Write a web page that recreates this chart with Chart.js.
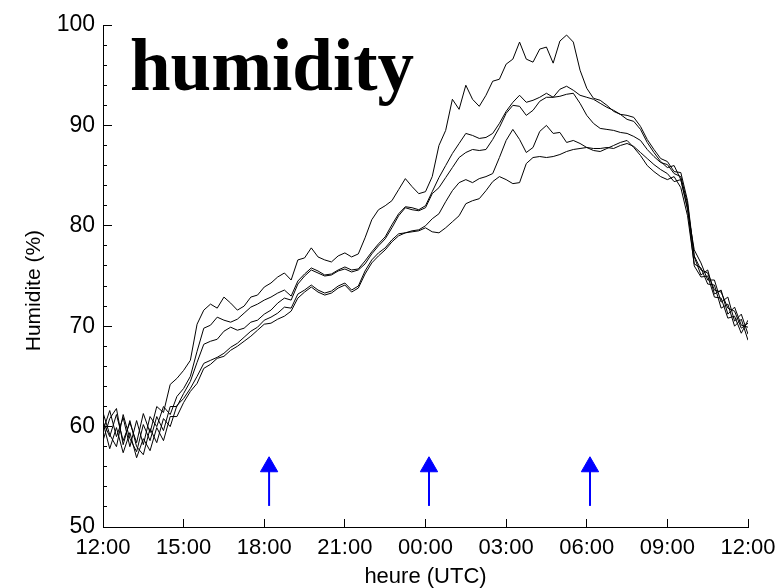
<!DOCTYPE html>
<html lang="fr">
<head>
<meta charset="UTF-8">
<title>humidity</title>
<script src="https://cdn.jsdelivr.net/npm/chart.js"></script>
<style>
  body { margin: 0; background: #fff; }
  #wrap { position: relative; width: 782px; height: 588px; }
</style>
</head>
<body>
<div id="wrap"><canvas id="humidityChart" width="782" height="588"></canvas></div>
<script>
// tick labels every 3 h, from 12:00 to 12:00 the next day
const xTickLabels = ['12:00', '15:00', '18:00', '21:00', '00:00', '03:00', '06:00', '09:00', '12:00'];

// five humidity records (%), one value every 15 min starting at 12:00 UTC
const seriesA = [60.5, 59.0, 61.2, 58.6, 60.4, 58.4, 61.3, 59.4, 62.0, 61.4, 64.2, 64.8,
  65.6, 66.6, 70.2, 71.6, 72.2, 71.8, 72.9, 72.3, 71.6, 72.0, 72.9, 73.1,
  73.9, 74.3, 74.9, 75.3, 74.6, 76.6, 76.8, 77.8, 76.9, 76.6, 76.4, 77.0,
  77.3, 76.9, 77.2, 78.8, 80.6, 81.6, 82.0, 82.5, 83.6, 84.7, 83.9, 83.2,
  83.4, 84.9, 88.0, 89.5, 92.6, 91.6, 94.0, 92.6, 91.9, 93.0, 94.4, 94.6,
  96.1, 96.6, 98.3, 96.6, 96.3, 97.6, 97.8, 96.2, 98.4, 99.0, 98.3, 95.5,
  93.7, 92.7, 92.5, 92.0, 91.4, 91.1, 91.0, 90.8, 89.9, 88.6, 87.6, 86.7,
  86.4, 85.4, 85.3, 82.5, 77.0, 75.6, 75.3, 73.6, 73.4, 71.8, 71.5, 69.8, 70.3];
const seriesB = [59.6, 61.6, 59.0, 60.9, 58.0, 60.6, 58.2, 61.0, 60.0, 62.0, 61.2, 63.0,
  63.8, 65.0, 67.5, 69.8, 70.1, 70.9, 70.6, 70.4, 70.7, 71.3, 71.9, 72.2,
  72.6, 72.9, 73.3, 73.6, 73.0, 74.5, 75.2, 75.8, 75.5, 75.1, 75.2, 75.6,
  75.9, 75.6, 75.7, 76.5, 77.4, 78.2, 78.9, 80.1, 81.2, 81.9, 81.8, 81.6,
  82.0, 83.4, 84.8, 86.0, 87.2, 88.2, 89.2, 89.0, 88.7, 88.8, 89.2, 90.2,
  91.4, 92.3, 93.0, 92.3, 92.5, 92.8, 93.2, 92.8, 93.6, 93.9, 93.5, 93.0,
  92.8, 92.6, 92.2, 91.8, 91.5, 91.1, 90.6, 90.4, 89.6, 88.3, 87.3, 86.4,
  85.8, 86.0, 84.6, 81.6, 77.6, 76.3, 74.6, 74.6, 72.4, 72.9, 70.5, 71.2, 69.2];
const seriesC = [61.4, 59.2, 58.0, 61.2, 58.8, 57.5, 60.2, 58.6, 61.0, 59.6, 62.0, 62.0,
  63.3, 64.5, 66.4, 68.2, 68.5, 68.7, 69.5, 69.9, 69.6, 69.8, 70.4, 70.6,
  71.2, 71.6, 72.3, 72.8, 72.6, 74.2, 75.0, 75.6, 75.3, 75.0, 75.1, 75.5,
  75.7, 75.4, 75.6, 76.2, 77.2, 78.0, 78.7, 79.8, 81.0, 81.8, 81.6, 81.5,
  81.8, 83.2, 83.8, 84.8, 85.8, 86.8, 87.3, 87.6, 87.5, 87.6, 88.6, 89.8,
  91.2, 92.0, 91.9, 91.0, 91.5, 92.4, 92.8, 92.8, 92.9, 93.1, 93.2, 92.2,
  91.0, 90.2, 89.7, 89.6, 89.5, 89.3, 89.2, 88.9, 88.5, 87.6, 86.9, 86.3,
  86.1, 85.2, 84.9, 82.2, 76.9, 75.1, 75.6, 73.2, 73.6, 71.2, 71.9, 70.1, 69.9];
const seriesD = [58.6, 60.8, 61.8, 58.2, 60.6, 58.0, 57.2, 59.8, 58.4, 60.8, 60.0, 62.1,
  62.8, 63.8, 65.0, 66.3, 66.6, 66.9, 67.3, 67.9, 68.3, 68.9, 69.5, 69.9,
  70.6, 70.9, 71.3, 71.9, 71.8, 73.2, 73.6, 74.1, 73.6, 73.3, 73.5, 74.0,
  74.3, 73.6, 74.0, 75.5, 76.6, 77.3, 77.8, 78.6, 79.2, 79.3, 79.5, 79.6,
  80.0, 80.7, 81.2, 82.4, 83.5, 84.3, 84.6, 84.3, 84.7, 84.9, 85.2, 86.8,
  88.5, 89.6, 88.6, 87.3, 87.8, 89.4, 90.0, 89.2, 89.3, 88.3, 88.5, 88.2,
  87.8, 87.5, 87.4, 87.7, 88.0, 88.3, 88.5, 87.8, 87.0, 86.0, 85.4, 84.9,
  84.6, 84.9, 83.8, 81.0, 76.2, 75.8, 74.2, 74.1, 71.8, 72.2, 70.0, 70.7, 68.6];
const seriesE = [60.4, 57.8, 59.9, 57.4, 59.4, 56.9, 58.8, 57.6, 59.9, 58.6, 61.0, 61.0,
  62.4, 63.5, 64.3, 65.8, 66.2, 66.8, 67.0, 67.6, 68.0, 68.5, 69.0, 69.6,
  70.2, 70.3, 70.7, 71.0, 71.5, 72.8, 73.4, 73.9, 73.4, 73.1, 73.3, 73.8,
  74.1, 73.4, 73.8, 75.2, 76.3, 77.0, 77.6, 78.4, 79.0, 79.3, 79.4, 79.5,
  79.8, 79.4, 79.3, 79.8, 80.4, 81.0, 82.2, 82.5, 82.7, 83.5, 84.4, 84.9,
  84.6, 84.2, 84.3, 86.2, 86.8, 86.9, 86.8, 86.9, 87.1, 87.4, 87.6, 87.7,
  87.8, 87.7, 87.7, 87.8, 87.7, 88.0, 88.2, 87.9, 87.3, 86.7, 86.1, 85.6,
  85.2, 84.4, 84.6, 81.8, 76.0, 74.9, 75.0, 72.9, 72.8, 70.8, 71.0, 69.3, 70.6];

// blue arrows (hours after 12:00), foot and tip level in %
const arrowHours = [6.18, 12.13, 18.12];
const arrowFoot = 52.1;
const arrowTip = 56.0;

const sampleStep = 0.25; // 15 min
const hours = seriesA.map((v, i) => i * sampleStep);

const labelFont = '"Liberation Sans", Arial, sans-serif';

const lineSets = [seriesA, seriesB, seriesC, seriesD, seriesE].map((s, k) => ({
    label: 'serie ' + (k + 1),
    data: s.map((v, i) => ({ x: hours[i], y: v })),
    yAxisID: 'y',
    borderColor: '#000',
    borderWidth: 1,
    pointRadius: 0,
    tension: 0
}));

const arrowSets = arrowHours.map(h => ({
    label: 'arrow',
    data: [{ x: h, y: arrowFoot }, { x: h, y: arrowTip }],
    yAxisID: 'y',
    borderColor: '#0000ff',
    backgroundColor: '#0000ff',
    borderWidth: 2,
    pointStyle: 'triangle',
    pointRadius: [0, 10],
    pointBorderWidth: 1
}));

// big "humidity" label inside the plot
const bigTitle = {
    id: 'bigTitle',
    afterDatasetsDraw(chart) {
        const { ctx, chartArea } = chart;
        ctx.save();
        ctx.font = 'bold 73px "Liberation Serif", "Times New Roman", serif';
        ctx.fillStyle = '#000';
        ctx.textBaseline = 'alphabetic';
        ctx.fillText('humidity', chartArea.left + 27, chartArea.top + 65);
        ctx.restore();
    }
};

new Chart(document.getElementById('humidityChart'), {
    type: 'line',
    data: { datasets: [...lineSets, ...arrowSets] },
    plugins: [bigTitle],
    options: {
        responsive: false,
        animation: false,
        layout: { padding: { top: 25, right: 34, left: 0, bottom: 0 } },
        plugins: { legend: { display: false }, tooltip: { enabled: false } },
        scales: {
            x: {
                type: 'linear',
                min: 0,
                max: 24,
                afterFit: s => { s.height = 61; s.paddingLeft = 0; s.paddingRight = 0; },
                ticks: {
                    stepSize: 3,
                    autoSkip: false,
                    maxRotation: 0,
                    padding: 16,
                    color: '#000',
                    font: { family: labelFont, size: 22 },
                    callback: v => xTickLabels[Math.round(v / 3)]
                },
                grid: { drawOnChartArea: false, tickLength: -8, tickColor: '#000' },
                border: { color: '#000', width: 1 },
                title: {
                    display: true,
                    text: 'heure (UTC)',
                    color: '#000',
                    font: { family: labelFont, size: 22, lineHeight: 1 },
                    padding: { top: 0, bottom: 0 }
                }
            },
            // minor ticks every 2 %, sitting on the same left border
            yMinor: {
                position: 'left',
                min: 50,
                max: 100,
                afterFit: s => { s.width = 0; s.paddingTop = 0; s.paddingBottom = 0; },
                ticks: { stepSize: 2, display: false },
                grid: { drawOnChartArea: false, tickLength: -4, tickColor: '#000' },
                border: { display: false }
            },
            y: {
                position: 'left',
                min: 50,
                max: 100,
                afterFit: s => { s.width = 103; s.paddingTop = 0; s.paddingBottom = 0; },
                ticks: {
                    stepSize: 10,
                    padding: 17,
                    color: '#000',
                    font: { family: labelFont, size: 23 }
                },
                grid: { drawOnChartArea: false, tickLength: -9, tickColor: '#000' },
                border: { color: '#000', width: 1 },
                title: {
                    display: true,
                    text: 'Humidite (%)\u00a0\u00a0\u00a0\u00a0\u00a0',
                    color: '#000',
                    font: { family: labelFont, size: 21, lineHeight: 1 },
                    padding: { top: 24, bottom: 0 }
                }
            }
        }
    }
});
</script>
</body>
</html>
